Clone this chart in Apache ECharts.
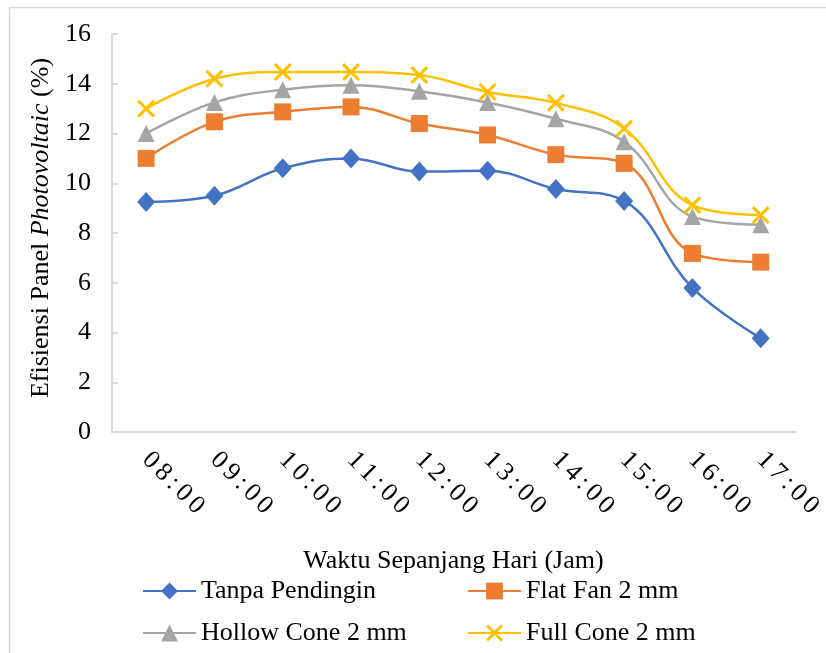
<!DOCTYPE html>
<html>
<head>
<meta charset="utf-8">
<script src="https://cdn.jsdelivr.net/npm/echarts@6/dist/echarts.min.js"></script>
<style>
  html, body { margin: 0; padding: 0; background: #ffffff; }
  #chart { width: 826px; height: 653px; }
</style>
</head>
<body>
<div id="chart"></div>
<script>
// Hours of the day (x-axis categories)
const hours = ['08:00', '09:00', '10:00', '11:00', '12:00', '13:00', '14:00', '15:00', '16:00', '17:00'];

// PV panel efficiency (%) per cooling variant
const tanpaPendingin = [9.25, 9.5, 10.6, 11.0, 10.47, 10.5, 9.77, 9.29, 5.79, 3.77];
const flatFan2mm     = [11.0, 12.47, 12.87, 13.07, 12.4, 11.94, 11.15, 10.8, 7.18, 6.83];
const hollowCone2mm  = [12.0, 13.25, 13.76, 13.94, 13.7, 13.25, 12.59, 11.67, 8.66, 8.33];
const fullCone2mm    = [13.0, 14.2, 14.47, 14.47, 14.35, 13.67, 13.23, 12.2, 9.12, 8.72];

// Y-axis ticks
const yTicks = [0, 2, 4, 6, 8, 10, 12, 14, 16];

const FONT = '"Liberation Serif", "Times New Roman", serif';
const AXIS_GREY = '#d9d9d9';

// Thin "x" marker drawn as a filled outline
const crossSymbol = 'path://M0,1.2 L1.2,0 L10,8.8 L8.8,10 Z M8.8,0 L10,1.2 L1.2,10 L0,8.8 Z';

function lineSeries(name, data, color, symbol, size) {
  return {
    name: name,
    type: 'line',
    data: data,
    smooth: 0.4,
    symbol: symbol,
    symbolSize: size,
    showAllSymbol: true,
    lineStyle: { color: color, width: 2.5 },
    itemStyle: { color: color },
    emphasis: { disabled: true },
    z: 3
  };
}

const chart = echarts.init(document.getElementById('chart'), null, { renderer: 'canvas' });

const legendText = { fontFamily: FONT, fontSize: 26, color: '#000', lineHeight: 26 };

function legendColumn(names, left) {
  return {
    data: names,
    orient: 'vertical',
    left: left, top: 578,
    height: 76,
    padding: 0,
    itemWidth: 53, itemHeight: 21, itemGap: 16,
    textStyle: legendText,
    selectedMode: false
  };
}

// Slanted hour labels are drawn with a little tracking between characters
const spaced = (s) => s.split('').join('\u2006');

chart.setOption({
  animation: false,
  backgroundColor: '#ffffff',
  graphic: [{
    type: 'rect',
    shape: { x: 9.5, y: 7.5, width: 840, height: 680 },
    style: { fill: 'none', stroke: AXIS_GREY, lineWidth: 1.5 },
    silent: true,
    z: 0
  }],
  grid: { left: 112, right: 28, top: 34, bottom: 221, containLabel: false },
  legend: [
    legendColumn(['Tanpa Pendingin', 'Hollow Cone 2 mm'], 142),
    legendColumn(['Flat Fan 2 mm', 'Full Cone 2 mm'], 467)
  ],
  xAxis: {
    type: 'category',
    data: hours,
    boundaryGap: true,
    name: 'Waktu Sepanjang Hari (Jam)',
    nameLocation: 'middle',
    nameGap: 116,
    nameTextStyle: { fontFamily: FONT, fontSize: 26, color: '#000' },
    axisLine: { lineStyle: { color: AXIS_GREY, width: 2 } },
    axisTick: { alignWithLabel: true, inside: true, length: 6, lineStyle: { color: AXIS_GREY, width: 2 } },
    axisLabel: {
      rotate: -45, margin: 24, fontFamily: FONT, fontSize: 26, color: '#000', interval: 0,
      formatter: spaced
    },
    splitLine: { show: false }
  },
  yAxis: {
    type: 'value',
    min: yTicks[0],
    max: yTicks[yTicks.length - 1],
    interval: yTicks[1] - yTicks[0],
    name: '{n|Efisiensi Panel }{i|Photovoltaic}{n| (%)}',
    nameLocation: 'middle',
    nameGap: 58,
    nameRotate: 90,
    nameTextStyle: {
      padding: [0, 0, 0, 10],
      rich: {
        n: { fontFamily: FONT, fontSize: 26, color: '#000' },
        i: { fontFamily: FONT, fontSize: 26, color: '#000', fontStyle: 'italic' }
      }
    },
    axisLine: { show: true, lineStyle: { color: AXIS_GREY, width: 2 } },
    axisTick: { show: true, inside: true, length: 6, lineStyle: { color: AXIS_GREY, width: 2 } },
    axisLabel: { margin: 21, fontFamily: FONT, fontSize: 26, color: '#000' },
    splitLine: { show: false }
  },
  series: [
    lineSeries('Tanpa Pendingin', tanpaPendingin, '#4472C4', 'diamond', [18, 20]),
    lineSeries('Flat Fan 2 mm', flatFan2mm, '#ED7D31', 'rect', 17),
    lineSeries('Hollow Cone 2 mm', hollowCone2mm, '#A5A5A5', 'triangle', 17),
    lineSeries('Full Cone 2 mm', fullCone2mm, '#FFC000', crossSymbol, 18)
  ]
});
</script>
</body>
</html>
